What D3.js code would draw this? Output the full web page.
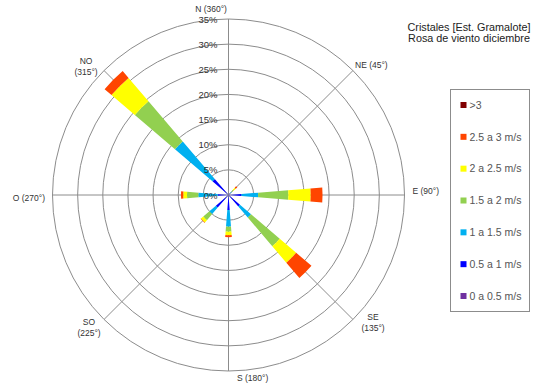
<!DOCTYPE html>
<html><head><meta charset="utf-8">
<script src="https://cdn.jsdelivr.net/npm/d3@7"></script>
<style>body{margin:0;background:#fff} text{font-family:Arial,"Liberation Sans",sans-serif}</style>
</head><body><svg id="c" width="533" height="383"></svg>
<script>
// ---- data ----
const directions = ["N","NNE","NE","ENE","E","ESE","SE","SSE","S","SSW","SW","WSW","W","WNW","NW","NNW"];
const speedBins = ["0 a 0.5 m/s","0.5 a 1 m/s","1 a 1.5 m/s","1.5 a 2 m/s","2 a 2.5 m/s","2.5 a 3 m/s",">3"];
const binColors = ["#7030A0","#0000FF","#00B0F0","#92D050","#FFFF00","#FF4500","#800000"];
// frequency (%) per direction for each speed bin
const s0_05 = [0,0,0.1,0,0.1,0,0.1,0,0.1,0,0.1,0,0.1,0,0.1,0];
const s05_1 = [0,0,0.4,0,2.5,0,2.9,0,2.9,0,3.2,0,2.0,0,4.1,0];
const s1_15 = [0,0,0.4,0,3.3,0,2.9,0,3.3,0,1.7,0,3.9,0,9.8,0];
const s15_2 = [0,0,0.4,0,6.0,0,7.5,0,1.0,0,1.6,0,2.25,0,10.5,0];
const s2_25 = [0,0,0.6,0,4.45,0,4.3,0,0.7,0,0.6,0,0.75,0,6.1,0];
const s25_3 = [0,0,0.4,0,2.35,0,4.0,0,0.4,0,0.1,0,0.45,0,1.8,0];
const s3up  = [0,0,0,0,0,0,0,0,0,0,0,0,0,0,0,0];
const radialTicks = [0,5,10,15,20,25,30,35];
const compassLabels = [
  {angle:0,   lines:["N (360°)"]},
  {angle:45,  lines:["NE (45°)"]},
  {angle:90,  lines:["E (90°)"]},
  {angle:135, lines:["SE","(135°)"]},
  {angle:180, lines:["S (180°)"]},
  {angle:225, lines:["SO","(225°)"]},
  {angle:270, lines:["O (270°)"]},
  {angle:315, lines:["NO","(315°)"]}
];
const titleLines = ["Cristales [Est. Gramalote]","Rosa de viento diciembre"];

// ---- layout ----
const svg = d3.select("#c");
const cx = 228.5, cy = 195, R = 176;
const g = svg.append("g").attr("transform",`translate(${cx},${cy})`);
const r = d3.scaleLinear().domain([0,35]).range([0,R]);
const wedge = 9 * Math.PI/180;
const series = [s0_05,s05_1,s1_15,s15_2,s2_25,s25_3,s3up];

// grid rings
g.selectAll("circle.ring").data(radialTicks.filter(d=>d>0)).join("circle")
  .attr("r", d=>r(d)).attr("fill","none").attr("stroke","#8c8c8c").attr("stroke-width",1);
// spokes
g.selectAll("line.spoke").data(compassLabels).join("line")
  .attr("x1",0).attr("y1",0)
  .attr("x2", d=>R*Math.sin(d.angle*Math.PI/180))
  .attr("y2", d=>-R*Math.cos(d.angle*Math.PI/180))
  .attr("stroke","#8c8c8c").attr("stroke-width",1);

// stacked wedges
const stackData = directions.map((dir,i)=>{
  let acc = 0; const segs = [];
  series.forEach((s,k)=>{ const v=s[i]; if(v>0){ segs.push({dir,k,r0:acc,r1:acc+v}); } acc+=v; });
  return segs;
}).flat();
const arc = d3.arc()
  .innerRadius(d=>r(d.r0)).outerRadius(d=>r(d.r1))
  .startAngle(d=>directions.indexOf(d.dir)*2*Math.PI/16 - wedge/2)
  .endAngle(d=>directions.indexOf(d.dir)*2*Math.PI/16 + wedge/2);
g.selectAll("path.seg").data(stackData).join("path")
  .attr("d", arc).attr("fill", d=>binColors[d.k]);

// radial tick labels
g.selectAll("text.rt").data(radialTicks).join("text")
  .attr("x",-11).attr("y", d=>-r(d)+3.5)
  .attr("text-anchor","end").attr("font-size",9.5).attr("fill","#333")
  .text(d=>d+"%");

// compass labels
const labelPos = {
  0:{x:-17.5,y:-183.5,a:"middle"}, 45:{x:126.5,y:-127,a:"start"}, 90:{x:184,y:-1,a:"start"},
  135:{x:144.5,y:125,a:"middle"}, 180:{x:8.5,y:186,a:"start"}, 225:{x:-139.5,y:130,a:"middle"},
  270:{x:-183.5,y:6,a:"end"}, 315:{x:-142.5,y:-131,a:"middle"}
};
compassLabels.forEach(l=>{
  const p = labelPos[l.angle];
  const t = g.append("text").attr("x",p.x).attr("y",p.y).attr("text-anchor",p.a)
    .attr("font-size",8.5).attr("fill","#333");
  l.lines.forEach((ln,i)=>t.append("tspan").attr("x",p.x).attr("dy", i? 10.5:0).text(ln));
});

// title
svg.selectAll("text.title").data(titleLines).join("text")
  .attr("x",469).attr("y",(d,i)=>30.5+i*11.5).attr("text-anchor","middle")
  .attr("font-size",10.8).attr("fill","#222").text(d=>d);

// legend
const lg = svg.append("g");
lg.append("rect").attr("x",450.5).attr("y",89.5).attr("width",79).attr("height",222)
  .attr("fill","#fff").attr("stroke","#8c8c8c");
const legendOrder = d3.range(speedBins.length).reverse();
const ly = d3.scalePoint().domain(legendOrder).range([105,296]);
lg.selectAll("rect.sw").data(legendOrder).join("rect")
  .attr("x",460.5).attr("y",d=>ly(d)-3).attr("width",6).attr("height",6).attr("fill",d=>binColors[d]);
lg.selectAll("text.lt").data(legendOrder).join("text")
  .attr("x",469.5).attr("y",d=>ly(d)+3.8).attr("font-size",10.5).attr("fill","#555")
  .text(d=>speedBins[d]);
</script></body></html>
